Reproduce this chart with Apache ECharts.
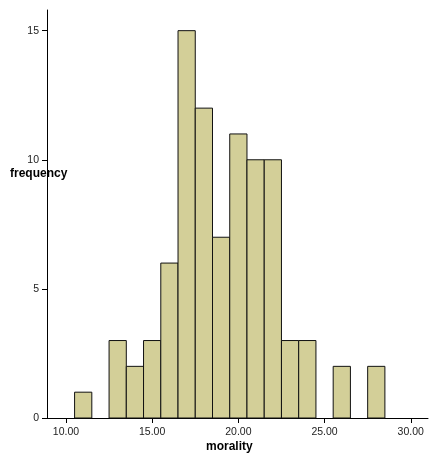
<!DOCTYPE html>
<html><head><meta charset="utf-8">
<script src="https://cdn.jsdelivr.net/npm/echarts@6/dist/echarts.min.js"></script>
<style>html,body{margin:0;padding:0;background:#fff}#c{width:429px;height:454px}</style>
</head><body><div id="c"></div>
<script>
var binCenters = [11, 13, 14, 15, 16, 17, 18, 19, 20, 21, 22, 23, 24, 26, 28];
var frequencies = [1, 3, 2, 3, 6, 15, 12, 7, 11, 10, 10, 3, 3, 2, 2];
var binWidth = 1;
var xTicks = [10, 15, 20, 25, 30];
var yTicks = [0, 5, 10, 15];

var chart = echarts.init(document.getElementById('c'), null, {renderer: 'canvas'});
var data = binCenters.map(function (c, i) { return [c, frequencies[i]]; });
chart.setOption({
  animation: false,
  grid: {left: 47, right: 1, top: 10, bottom: 36, containLabel: false},
  xAxis: {
    type: 'value', min: 8.9, max: 31, interval: 5,
    axisLine: {lineStyle: {color: '#000', width: 1}},
    axisTick: {show: true, length: 5, lineStyle: {color: '#000'}, customValues: xTicks},
    axisLabel: {color: '#222', fontSize: 10.5, fontFamily: 'Arial, Liberation Sans', margin: 9,
      customValues: xTicks, formatter: function (v) { return v.toFixed(2); }},
    splitLine: {show: false}
  },
  yAxis: {
    type: 'value', min: 0, max: 15.8, interval: 5,
    axisLine: {show: true, lineStyle: {color: '#000', width: 1}},
    axisTick: {show: true, length: 5, lineStyle: {color: '#000'}, customValues: yTicks},
    axisLabel: {color: '#222', fontSize: 10.5, fontFamily: 'Arial, Liberation Sans', margin: 8, customValues: yTicks},
    splitLine: {show: false}
  },
  graphic: [
    {type: 'text', left: 10, top: 168, style: {text: 'frequency', font: 'bold 12px Arial, Liberation Sans', fill: '#000'}},
    {type: 'text', left: 206, top: 441, style: {text: 'morality', font: 'bold 12px Arial, Liberation Sans', fill: '#000'}}
  ],
  series: [{
    type: 'custom',
    data: data,
    encode: {x: 0, y: 1},
    renderItem: function (params, api) {
      var c = api.value(0), v = api.value(1);
      var p1 = api.coord([c - binWidth / 2, v]);
      var p2 = api.coord([c + binWidth / 2, 0]);
      return {
        type: 'rect',
        shape: {x: p1[0], y: p1[1], width: p2[0] - p1[0], height: p2[1] - p1[1]},
        style: {fill: '#d3cf98', stroke: '#111', lineWidth: 1}
      };
    }
  }]
});
</script></body></html>
